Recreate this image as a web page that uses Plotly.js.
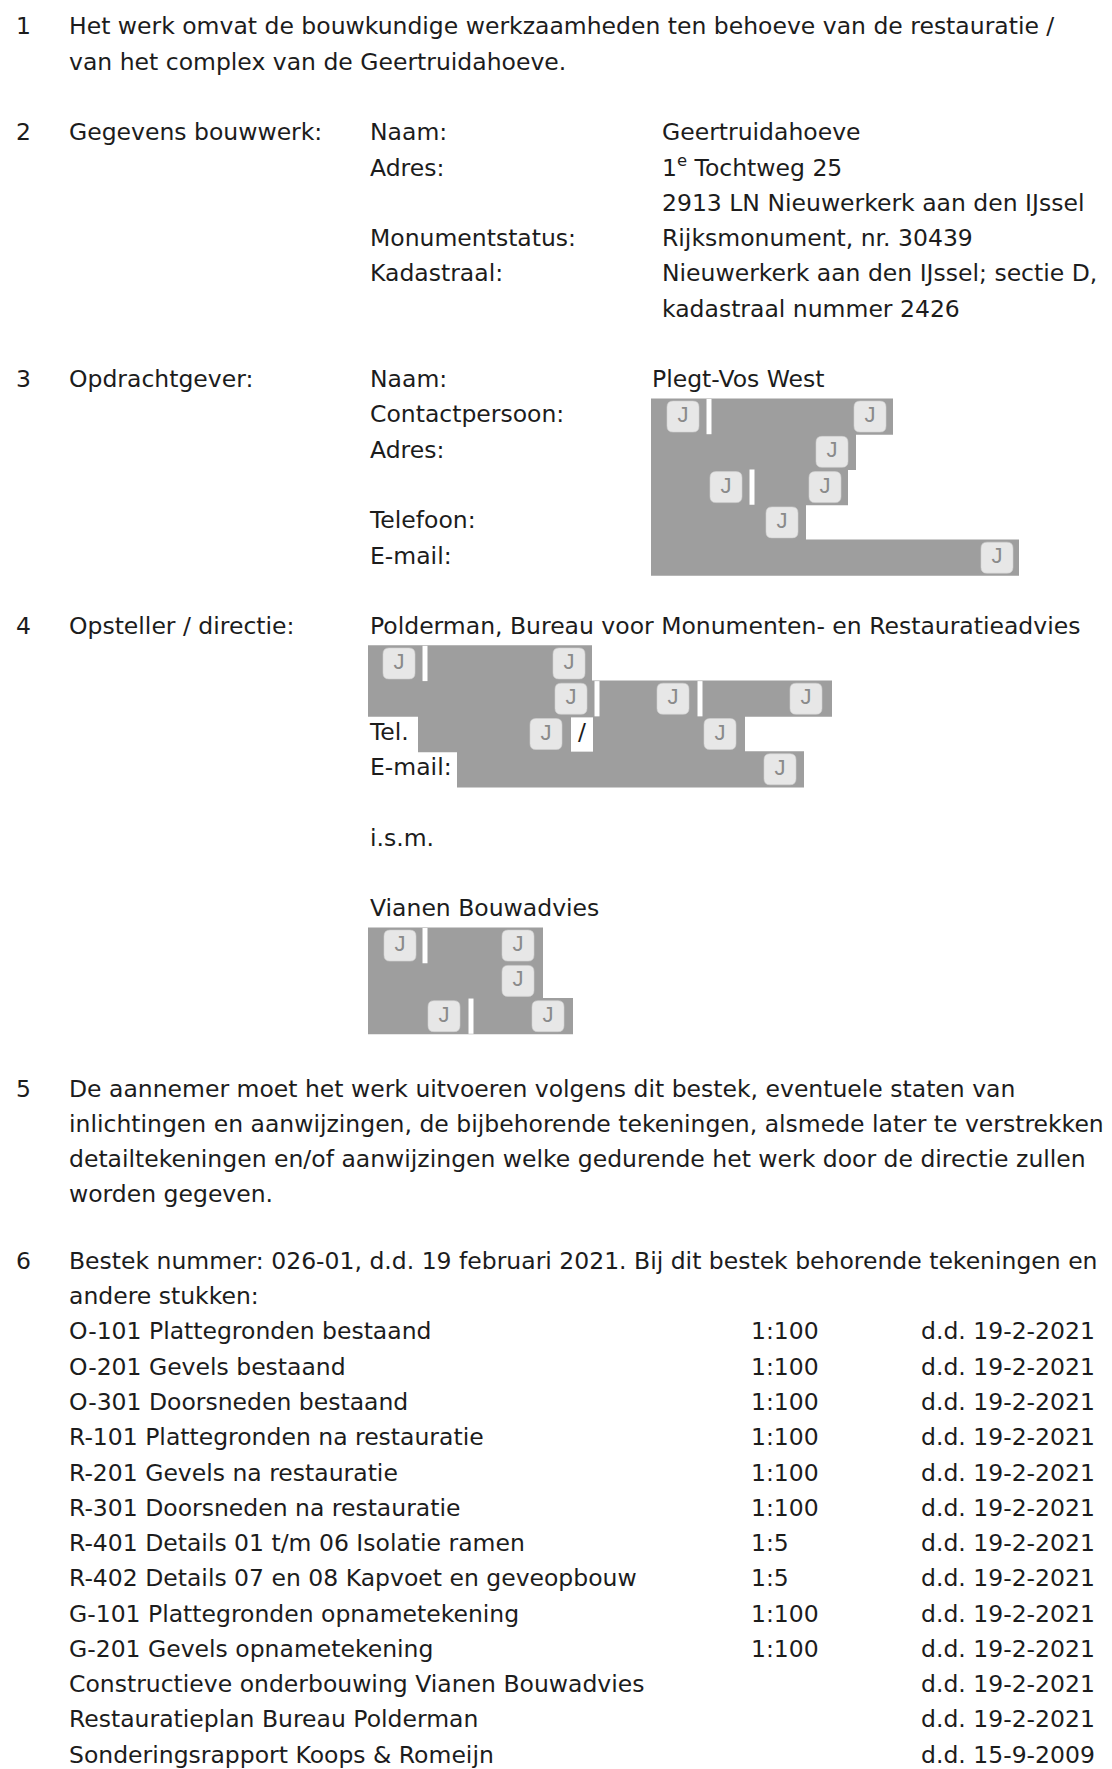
<!DOCTYPE html>
<html>
<head>
<meta charset="utf-8">
<script src="https://cdn.plot.ly/plotly-3.0.1.min.js"></script>
<style>
html,body{margin:0;padding:0;background:#ffffff;}
#page{width:1112px;height:1769px;}
</style>
</head>
<body>
<div id="page"></div>
<script>
// ---------------- content ----------------
const headingText = 'Omschrijving van het project';
const sectionNumbers = ['1', '2', '3', '4', '5', '6'];

const introLines = [
  'Het werk omvat de bouwkundige werkzaamheden ten behoeve van de restauratie /',
  'van het complex van de Geertruidahoeve.'
];

const buildingTitle = 'Gegevens bouwwerk:';
const buildingLabels = ['Naam:', 'Adres:', '', 'Monumentstatus:', 'Kadastraal:', ''];
const buildingValues = [
  'Geertruidahoeve',
  '1<sup>e</sup> Tochtweg 25',
  '2913 LN Nieuwerkerk aan den IJssel',
  'Rijksmonument, nr. 30439',
  'Nieuwerkerk aan den IJssel; sectie D,',
  'kadastraal nummer 2426'
];

const clientTitle = 'Opdrachtgever:';
const clientLabels = ['Naam:', 'Contactpersoon:', 'Adres:', '', 'Telefoon:', 'E-mail:'];
const clientName = 'Plegt-Vos West';

const authorTitle = 'Opsteller / directie:';
const authorName = 'Polderman, Bureau voor Monumenten- en Restauratieadvies';
const authorLabels = ['', '', 'Tel.', 'E-mail:'];
const withText = 'i.s.m.';
const partnerName = 'Vianen Bouwadvies';

const contractLines = [
  'De aannemer moet het werk uitvoeren volgens dit bestek, eventuele staten van',
  'inlichtingen en aanwijzingen, de bijbehorende tekeningen, alsmede later te verstrekken',
  'detailtekeningen en/of aanwijzingen welke gedurende het werk door de directie zullen',
  'worden gegeven.'
];

const specLines = [
  'Bestek nummer: 026-01, d.d. 19 februari 2021. Bij dit bestek behorende tekeningen en',
  'andere stukken:'
];

const drawingNames = [
  'O-101 Plattegronden bestaand',
  'O-201 Gevels bestaand',
  'O-301 Doorsneden bestaand',
  'R-101 Plattegronden na restauratie',
  'R-201 Gevels na restauratie',
  'R-301 Doorsneden na restauratie',
  'R-401 Details 01 t/m 06 Isolatie ramen',
  'R-402 Details 07 en 08 Kapvoet en geveopbouw',
  'G-101 Plattegronden opnametekening',
  'G-201 Gevels opnametekening',
  'Constructieve onderbouwing Vianen Bouwadvies',
  'Restauratieplan Bureau Polderman',
  'Sonderingsrapport Koops & Romeijn'
];
const drawingScales = ['1:100', '1:100', '1:100', '1:100', '1:100', '1:100', '1:5', '1:5', '1:100', '1:100', '', '', ''];
const drawingDates = [
  'd.d. 19-2-2021', 'd.d. 19-2-2021', 'd.d. 19-2-2021', 'd.d. 19-2-2021', 'd.d. 19-2-2021',
  'd.d. 19-2-2021', 'd.d. 19-2-2021', 'd.d. 19-2-2021', 'd.d. 19-2-2021', 'd.d. 19-2-2021',
  'd.d. 19-2-2021', 'd.d. 19-2-2021', 'd.d. 15-9-2009'
];

// ---------------- page layout (positions / styles) ----------------
const W = 1112, H = 1769;
const LH = 35.27, Y0 = 28.6;
const yOf = L => Y0 + L * LH + (L >= 30 && L <= 33 ? 4 : 0);
const COL = {num: 16, text: 69, label: 370, value: 662, client: 652, scale: 751, date: 921};
const FONT = 'DejaVu Sans';
const FSIZE = 23.5;
const INK = '#1c1c1c';
const GREY = '#9e9e9e';

// redacted (greyed-out) rows: line index, horizontal extent, white separators, icon centres, white gaps
const redactedRows = [
  {line: 11, x0: 651, x1: 893, seps: [709], icons: [683, 870]},
  {line: 12, x0: 651, x1: 856, seps: [], icons: [832]},
  {line: 13, x0: 651, x1: 848, seps: [752], icons: [726, 825]},
  {line: 14, x0: 651, x1: 806, seps: [], icons: [782]},
  {line: 15, x0: 651, x1: 1019, seps: [], icons: [997]},
  {line: 18, x0: 368, x1: 592, seps: [425], icons: [399, 569]},
  {line: 19, x0: 368, x1: 832, seps: [597, 700], icons: [571, 673, 806]},
  {line: 20, x0: 418, x1: 745, seps: [], icons: [546, 720], gaps: [[571, 593, '/']]},
  {line: 21, x0: 457, x1: 804, seps: [], icons: [780]},
  {line: 26, x0: 368, x1: 543, seps: [425], icons: [400, 518]},
  {line: 27, x0: 368, x1: 543, seps: [], icons: [518]},
  {line: 28, x0: 368, x1: 573, seps: [471], icons: [444, 548]}
];

// ---------------- assemble text items ----------------
const items = [];
function put(x, L, t) { if (t !== '') items.push({x: x, y: yOf(L), t: t}); }

put(COL.num, 0, sectionNumbers[0]);
introLines.forEach((t, i) => put(COL.text, 0 + i, t));
put(COL.num, 3, sectionNumbers[1]);
put(COL.text, 3, buildingTitle);
buildingLabels.forEach((t, i) => put(COL.label, 3 + i, t));
buildingValues.forEach((t, i) => put(COL.value, 3 + i, t));
put(COL.num, 10, sectionNumbers[2]);
put(COL.text, 10, clientTitle);
clientLabels.forEach((t, i) => put(COL.label, 10 + i, t));
put(COL.client, 10, clientName);
put(COL.num, 17, sectionNumbers[3]);
put(COL.text, 17, authorTitle);
put(COL.label, 17, authorName);
authorLabels.forEach((t, i) => put(COL.label, 18 + i, t));
put(COL.label, 23, withText);
put(COL.label, 25, partnerName);
put(COL.num, 30, sectionNumbers[4]);
contractLines.forEach((t, i) => put(COL.text, 30 + i, t));
put(COL.num, 35, sectionNumbers[5]);
specLines.forEach((t, i) => put(COL.text, 35 + i, t));
drawingNames.forEach((t, i) => put(COL.text, 37 + i, t));
drawingScales.forEach((t, i) => put(COL.scale, 37 + i, t));
drawingDates.forEach((t, i) => put(COL.date, 37 + i, t));

// ---------------- shapes for redacted blocks ----------------
function roundRect(cx, cy, w, h, r) {
  const x0 = cx - w / 2, x1 = cx + w / 2, y0 = cy - h / 2, y1 = cy + h / 2;
  return 'M' + (x0 + r) + ',' + y0 + ' L' + (x1 - r) + ',' + y0 + ' Q' + x1 + ',' + y0 + ' ' + x1 + ',' + (y0 + r) +
    ' L' + x1 + ',' + (y1 - r) + ' Q' + x1 + ',' + y1 + ' ' + (x1 - r) + ',' + y1 +
    ' L' + (x0 + r) + ',' + y1 + ' Q' + x0 + ',' + y1 + ' ' + x0 + ',' + (y1 - r) +
    ' L' + x0 + ',' + (y0 + r) + ' Q' + x0 + ',' + y0 + ' ' + (x0 + r) + ',' + y0 + ' Z';
}
const shapes = [];
const iconX = [], iconY = [], gapX = [], gapY = [], gapT = [];
redactedRows.forEach(r => {
  const cy = yOf(r.line), y0 = cy - LH / 2, y1 = cy + LH / 2;
  shapes.push({type: 'rect', xref: 'x', yref: 'y', x0: r.x0, x1: r.x1, y0: y0 - 0.5, y1: y1 + 0.5,
    fillcolor: GREY, line: {width: 0}, layer: 'below'});
});
redactedRows.forEach(r => {
  const cy = yOf(r.line), y0 = cy - LH / 2, y1 = cy + LH / 2;
  (r.seps || []).forEach(sx => shapes.push({type: 'rect', xref: 'x', yref: 'y', x0: sx - 2.5, x1: sx + 2.5,
    y0: y0, y1: y1, fillcolor: '#ffffff', line: {width: 0}, layer: 'below'}));
  (r.gaps || []).forEach(g => {
    shapes.push({type: 'rect', xref: 'x', yref: 'y', x0: g[0], x1: g[1], y0: y0 + 1, y1: y1,
      fillcolor: '#ffffff', line: {width: 0}, layer: 'below'});
    gapX.push((g[0] + g[1]) / 2); gapY.push(cy); gapT.push(g[2]);
  });
  r.icons.forEach(ix => {
    shapes.push({type: 'path', xref: 'x', yref: 'y', path: roundRect(ix, cy, 32, 31, 6),
      fillcolor: '#e7e7e7', line: {width: 0.6, color: '#d0d0d0'}, layer: 'below'});
    iconX.push(ix); iconY.push(cy);
  });
});

// ---------------- traces ----------------
const traces = [
  {
    type: 'scatter', mode: 'text', x: items.map(d => d.x), y: items.map(d => d.y), text: items.map(d => d.t),
    textposition: 'middle right', textfont: {family: FONT, size: FSIZE, color: INK},
    hoverinfo: 'skip', cliponaxis: false, showlegend: false
  },
  {
    type: 'scatter', mode: 'text', x: iconX, y: iconY, text: iconX.map(() => 'J'),
    textposition: 'middle center', textfont: {family: 'Liberation Sans', size: 22, color: '#8a8a8a'},
    hoverinfo: 'skip', cliponaxis: false, showlegend: false
  },
  {
    type: 'scatter', mode: 'text', x: gapX, y: gapY, text: gapT,
    textposition: 'middle center', textfont: {family: FONT, size: FSIZE, color: INK},
    hoverinfo: 'skip', cliponaxis: false, showlegend: false
  }
];

const layout = {
  width: W, height: H,
  margin: {l: 0, r: 0, t: 0, b: 0, pad: 0},
  paper_bgcolor: '#ffffff', plot_bgcolor: '#ffffff',
  showlegend: false,
  xaxis: {range: [0, W], visible: false, fixedrange: true},
  yaxis: {range: [H, 0], visible: false, fixedrange: true},
  shapes: shapes,
  annotations: [{
    xref: 'paper', yref: 'paper', x: 0.004, y: 1 + 15 / H, xanchor: 'left', yanchor: 'middle',
    text: headingText, showarrow: false,
    font: {family: FONT, size: FSIZE, color: INK, weight: 'bold'}
  }]
};

Plotly.newPlot('page', traces, layout, {displayModeBar: false, staticPlot: true});
</script>
</body>
</html>
